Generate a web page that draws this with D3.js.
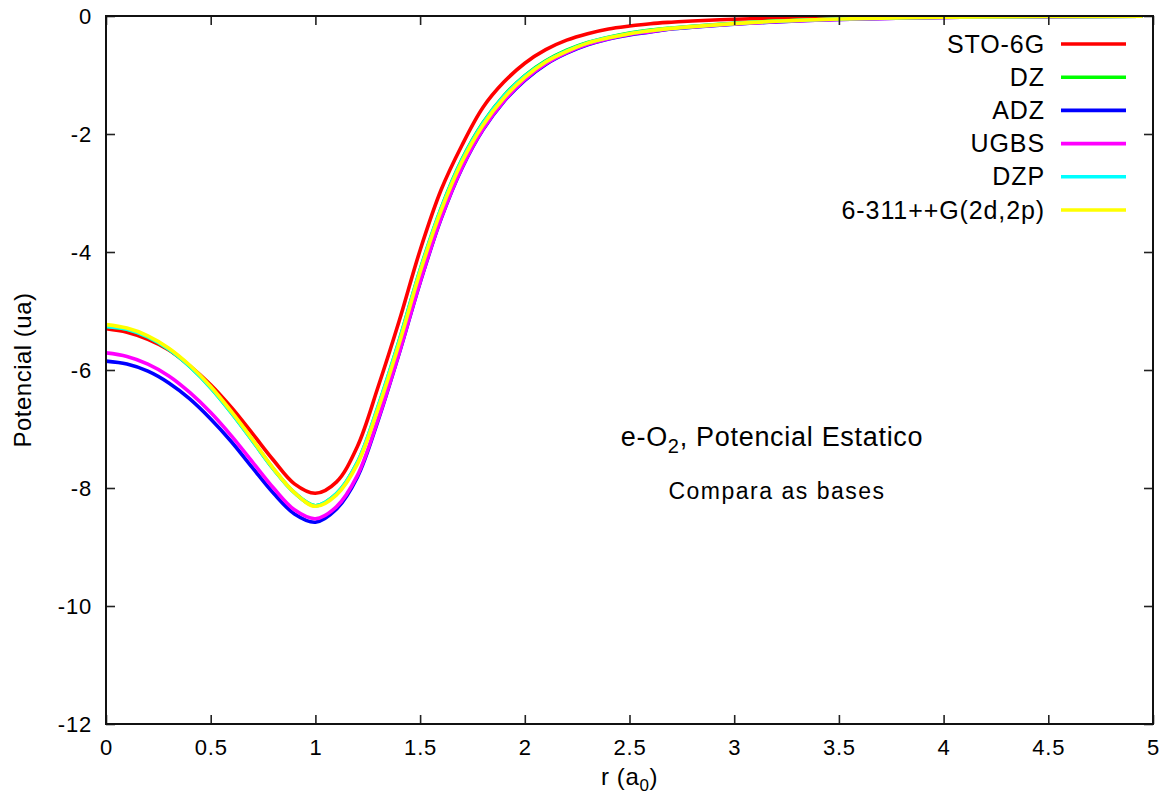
<!DOCTYPE html>
<html>
<head>
<meta charset="utf-8">
<script src="https://cdn.jsdelivr.net/npm/d3@7"></script>
<style>
  html, body { margin: 0; padding: 0; background: #fff; }
  svg { display: block; }
  text { font-family: "Liberation Sans", Arial, Helvetica, sans-serif; fill: #000; }
</style>
</head>
<body>
<svg id="chart" width="1170" height="796"></svg>
<script>
// ---- data ----
const r = [0, 0.1, 0.2, 0.3, 0.4, 0.5, 0.6, 0.7, 0.8, 0.9, 1.0, 1.1, 1.2, 1.3, 1.4, 1.5, 1.6, 1.7, 1.8, 1.9,
           2.0, 2.1, 2.2, 2.3, 2.4, 2.5, 2.6, 2.7, 2.8, 3.0, 3.2, 3.5, 4.0, 4.5, 4.95];

const sto6g = [-5.30, -5.36, -5.48, -5.66, -5.93, -6.25, -6.64, -7.08, -7.53, -7.93, -8.09, -7.90, -7.30, -6.28, -5.17, -3.97, -2.95, -2.19, -1.55, -1.12,
               -0.80, -0.57, -0.41, -0.30, -0.22, -0.17, -0.13, -0.105, -0.085, -0.055, -0.032, -0.016, -0.006, -0.002, -0.001];
const dz    = [-5.26, -5.31, -5.44, -5.65, -5.94, -6.30, -6.73, -7.20, -7.68, -8.08, -8.30, -8.10, -7.57, -6.61, -5.50, -4.30, -3.26, -2.43, -1.81, -1.35,
               -1.01, -0.76, -0.58, -0.45, -0.36, -0.29, -0.24, -0.205, -0.175, -0.125, -0.087, -0.05, -0.02, -0.008, -0.004];
const adz   = [-5.85, -5.90, -6.02, -6.22, -6.49, -6.83, -7.22, -7.66, -8.09, -8.44, -8.58, -8.36, -7.82, -6.85, -5.72, -4.52, -3.44, -2.58, -1.93, -1.45,
               -1.09, -0.82, -0.63, -0.49, -0.39, -0.32, -0.27, -0.22, -0.19, -0.14, -0.10, -0.06, -0.025, -0.01, -0.005];
const ugbs  = [-5.71, -5.77, -5.90, -6.10, -6.38, -6.72, -7.12, -7.56, -8.00, -8.37, -8.52, -8.32, -7.79, -6.83, -5.71, -4.51, -3.43, -2.57, -1.92, -1.44,
               -1.08, -0.81, -0.62, -0.48, -0.385, -0.315, -0.265, -0.215, -0.185, -0.135, -0.097, -0.058, -0.024, -0.01, -0.005];
const dzp   = [-5.26, -5.31, -5.44, -5.65, -5.94, -6.30, -6.73, -7.20, -7.68, -8.08, -8.30, -8.10, -7.57, -6.61, -5.51, -4.31, -3.27, -2.44, -1.82, -1.36,
               -1.02, -0.77, -0.59, -0.455, -0.365, -0.295, -0.245, -0.207, -0.177, -0.127, -0.088, -0.05, -0.02, -0.008, -0.004];
const g6311 = [-5.23, -5.29, -5.42, -5.63, -5.92, -6.28, -6.71, -7.18, -7.67, -8.08, -8.31, -8.12, -7.60, -6.65, -5.55, -4.34, -3.30, -2.47, -1.85, -1.39,
               -1.04, -0.78, -0.60, -0.46, -0.37, -0.30, -0.25, -0.21, -0.18, -0.13, -0.09, -0.05, -0.02, -0.008, -0.004];

const seriesNames  = ["STO-6G", "DZ", "ADZ", "UGBS", "DZP", "6-311++G(2d,2p)"];
const seriesValues = [sto6g, dz, adz, ugbs, dzp, g6311];
const seriesColors = ["#ff0000", "#00ff00", "#0000ff", "#ff00ff", "#00ffff", "#ffff00"];

const xTicks = [0, 0.5, 1, 1.5, 2, 2.5, 3, 3.5, 4, 4.5, 5];
const yTicks = [0, -2, -4, -6, -8, -10, -12];

// ---- layout ----
const svg = d3.select("#chart");
const pL = 106, pR = 1153, pT = 16, pB = 724;

const x = d3.scaleLinear().domain([0, 5]).range([pL, pR]);
const y = d3.scaleLinear().domain([-12, 0]).range([pB, pT]);

svg.append("defs").append("clipPath").attr("id", "plotclip")
  .append("rect").attr("x", pL).attr("y", pT).attr("width", pR - pL).attr("height", pB - pT);

// curves
const line = d3.line()
  .x(d => x(d[0]))
  .y(d => y(d[1]))
  .curve(d3.curveCatmullRom.alpha(0.5));

const gLines = svg.append("g").attr("clip-path", "url(#plotclip)");
seriesValues.forEach((vals, i) => {
  gLines.append("path")
    .datum(r.map((rv, k) => [rv, vals[k]]))
    .attr("d", line)
    .attr("fill", "none")
    .attr("stroke", seriesColors[i])
    .attr("stroke-width", 3.6)
    .attr("stroke-linejoin", "round");
});

// axes: ticks inward on all sides
const tickLen = 9;
const axB = svg.append("g").attr("transform", `translate(0,${pB})`)
  .call(d3.axisBottom(x).tickValues(xTicks).tickSizeInner(-tickLen).tickSizeOuter(0).tickPadding(15)
    .tickFormat(d => String(d)));
const axT = svg.append("g").attr("transform", `translate(0,${pT})`)
  .call(d3.axisTop(x).tickValues(xTicks).tickSizeInner(-tickLen).tickSizeOuter(0).tickFormat(""));
const axL = svg.append("g").attr("transform", `translate(${pL},0)`)
  .call(d3.axisLeft(y).tickValues(yTicks).tickSizeInner(-tickLen).tickSizeOuter(0).tickPadding(14)
    .tickFormat(d => String(d)));
const axR = svg.append("g").attr("transform", `translate(${pR},0)`)
  .call(d3.axisRight(y).tickValues(yTicks).tickSizeInner(-tickLen).tickSizeOuter(0).tickFormat(""));

[axB, axT, axL, axR].forEach(g => {
  g.select(".domain").remove();
  g.selectAll(".tick line").attr("stroke", "#222").attr("stroke-width", 1.6);
  g.selectAll(".tick text").style("font-size", "22px").style("letter-spacing", "0.8px").attr("fill", "#000");
});

// frame
svg.append("rect").attr("x", pL).attr("y", pT).attr("width", pR - pL).attr("height", pB - pT)
  .attr("fill", "none").attr("stroke", "#111").attr("stroke-width", 2);

// axis titles
const xt = svg.append("text").attr("x", (pL + pR) / 2).attr("y", 785)
  .attr("text-anchor", "middle").style("font-size", "24px").style("letter-spacing", "0.6px");
xt.append("tspan").text("r (a");
xt.append("tspan").attr("dy", 6).style("font-size", "17px").text("0");
xt.append("tspan").attr("dy", -6).text(")");

svg.append("text").attr("transform", `translate(31,${(pT + pB) / 2}) rotate(-90)`)
  .attr("text-anchor", "middle").style("font-size", "24px").style("letter-spacing", "0.5px")
  .text("Potencial (ua)");

// annotations
const ann = svg.append("text").attr("x", 772).attr("y", 446)
  .attr("text-anchor", "middle").style("font-size", "27px").style("letter-spacing", "0.7px");
ann.append("tspan").text("e-O");
ann.append("tspan").attr("dy", 7).style("font-size", "20px").text("2");
ann.append("tspan").attr("dy", -7).text(", Potencial Estatico");

svg.append("text").attr("x", 777).attr("y", 499).attr("text-anchor", "middle")
  .style("font-size", "23px").style("letter-spacing", "1.5px").text("Compara as bases");

// legend
const legY0 = 44, legDy = 33.2;
seriesNames.forEach((name, i) => {
  const yy = legY0 + i * legDy;
  svg.append("text").attr("x", 1045).attr("y", yy + 8.5).attr("text-anchor", "end")
    .style("font-size", "25px").style("letter-spacing", "0.9px").text(name);
  svg.append("line").attr("x1", 1061).attr("x2", 1126).attr("y1", yy).attr("y2", yy)
    .attr("stroke", seriesColors[i]).attr("stroke-width", 3.6);
});
</script>
</body>
</html>
